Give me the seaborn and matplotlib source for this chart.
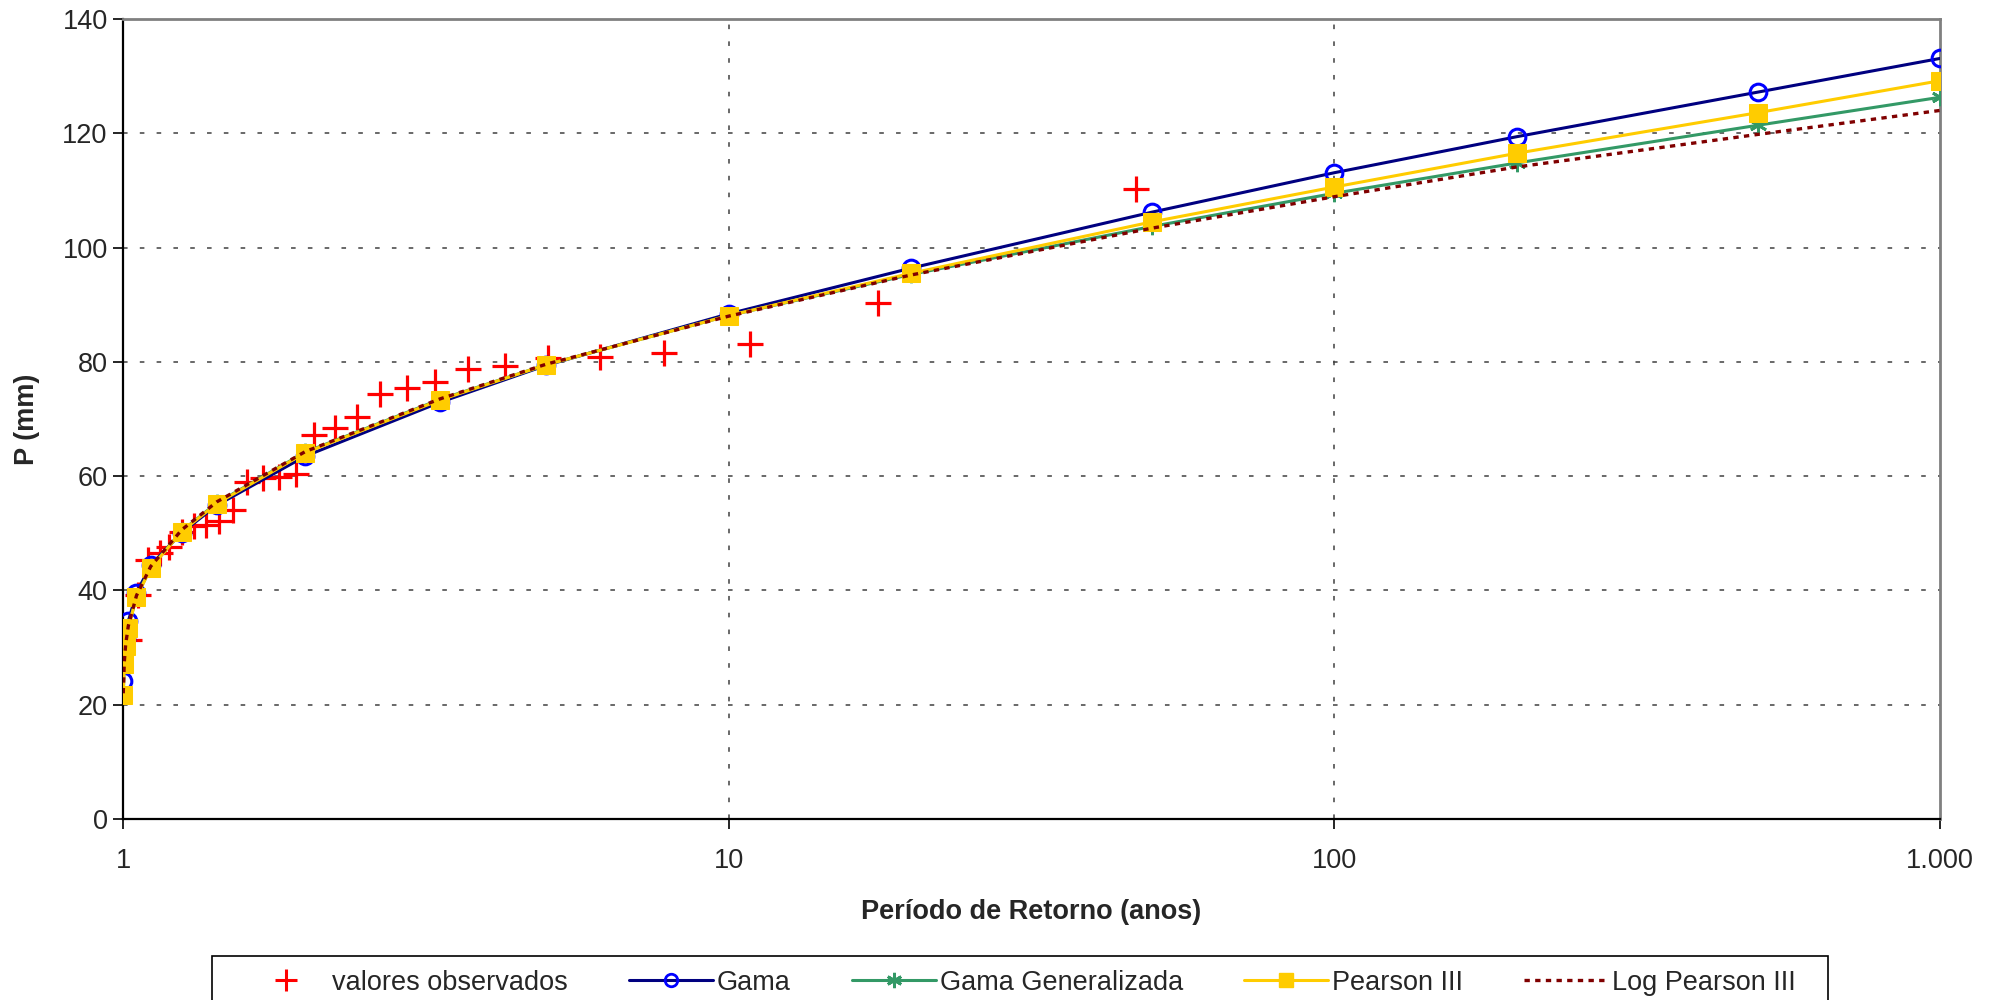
import matplotlib
matplotlib.use("Agg")
import matplotlib.pyplot as plt
import seaborn as sns
import pandas as pd
from matplotlib.ticker import FixedLocator, FixedFormatter, NullLocator
from matplotlib.lines import Line2D
from matplotlib.patches import Rectangle

# ---------------- data ----------------
obs_T = [47.0, 17.63, 10.85, 7.83, 6.13, 5.04, 4.27, 3.71, 3.28, 2.94, 2.66, 2.43, 2.24, 2.07,
         1.93, 1.81, 1.70, 1.60, 1.52, 1.44, 1.37, 1.31, 1.25, 1.19, 1.15, 1.10, 1.06, 1.022]
obs_P = [110.2, 90.3, 83.2, 81.5, 80.8, 80.6, 79.2, 78.8, 76.4, 75.4, 74.3, 70.3, 68.5, 67.2,
         60.4, 59.9, 59.6, 59.0, 54.1, 52.2, 51.4, 51.3, 50.2, 47.6, 46.5, 45.3, 39.2, 31.3]

fit_T = [1.001, 1.005, 1.0101, 1.0204, 1.0526, 1.1111, 1.25, 1.4286, 2, 3.3333, 5, 10,
         20, 50, 100, 200, 500, 1000]
gama = [24.1, 29.1, 31.5, 34.6, 39.6, 44.4, 50.1, 54.9, 63.5, 72.9, 79.4, 88.4,
        96.4, 106.2, 113.1, 119.4, 127.2, 133.1]
gama_gen = [21.9, 27.3, 30.3, 33.6, 38.9, 44.0, 50.4, 55.3, 64.2, 73.4, 79.5, 88.1,
            95.3, 103.7, 109.5, 114.8, 121.4, 126.3]
pearson3 = [21.7, 27.2, 30.2, 33.5, 38.8, 43.9, 50.3, 55.2, 64.1, 73.3, 79.5, 88.1,
            95.5, 104.5, 110.6, 116.5, 123.6, 129.2]
log_pearson3 = [22.0, 27.5, 30.5, 33.8, 39.1, 44.2, 50.6, 55.5, 64.3, 73.5, 79.6, 88.0,
                95.2, 103.4, 108.9, 114.1, 119.8, 124.0]

x_ticks = [1, 10, 100, 1000]
x_tick_labels = ["1", "10", "100", "1.000"]
y_ticks = [0, 20, 40, 60, 80, 100, 120, 140]

labels = ["valores observados", "Gama", "Gama Generalizada", "Pearson III", "Log Pearson III"]

# ---------------- style ----------------
sns.set_style("white")
plt.rcParams["font.family"] = ["Liberation Sans", "DejaVu Sans"]
FS = 19.5

fig = plt.figure(figsize=(19.93, 10), dpi=100)
ax = fig.add_axes([123 / 1993, 1 - 819 / 1000, (1940 - 123) / 1993, 800 / 1000])

df_obs = pd.DataFrame({"T": obs_T, "P": obs_P})
df_fit = pd.DataFrame({"T": fit_T, "Gama": gama, "GG": gama_gen, "P3": pearson3, "LP3": log_pearson3})

# observed
sns.scatterplot(data=df_obs, x="T", y="P", marker="+", s=340, color="#FF0000",
                linewidth=2.3, ax=ax, zorder=3, legend=False)
# Gama
sns.lineplot(data=df_fit, x="T", y="Gama", ax=ax, color="#000080", linewidth=2.2,
             marker="o", markersize=12, markerfacecolor="none", markeredgecolor="#0000FF",
             markeredgewidth=2.2, sort=False, estimator=None, zorder=4, legend=False)
# Gama generalizada
sns.lineplot(data=df_fit, x="T", y="GG", ax=ax, color="#339966", linewidth=2.2,
             marker=(6, 2, 0), markersize=12.5, markeredgecolor="#339966",
             markeredgewidth=2.0, sort=False, estimator=None, zorder=5, legend=False)
# Pearson III
sns.lineplot(data=df_fit, x="T", y="P3", ax=ax, color="#FFCC00", linewidth=2.2,
             marker="s", markersize=12.5, markerfacecolor="#FFCC00", markeredgecolor="#FFCC00",
             sort=False, estimator=None, zorder=6, legend=False)
# Log Pearson III
sns.lineplot(data=df_fit, x="T", y="LP3", ax=ax, color="#800000", linewidth=2.4,
             sort=False, estimator=None, zorder=7, legend=False)
ax.lines[-1].set_linestyle((0, (1.6, 1.6)))

ax.set_xscale("log")
ax.set_xlim(1, 1000)
ax.set_ylim(0, 140)
ax.xaxis.set_major_locator(FixedLocator(x_ticks))
ax.xaxis.set_major_formatter(FixedFormatter(x_tick_labels))
ax.xaxis.set_minor_locator(NullLocator())
ax.set_yticks(y_ticks)
ax.tick_params(axis="both", which="major", labelsize=FS, direction="out", length=7,
               width=1.2, color="black", left=True, bottom=True)
ax.tick_params(axis="x", pad=14)
ax.tick_params(axis="y", pad=4)

# grid
for yv in y_ticks[1:-1]:
    ax.axhline(yv, color="#404040", linewidth=1.1, linestyle=(0, (3, 8)), zorder=1)
for xv in x_ticks[1:-1]:
    ax.axvline(xv, color="#404040", linewidth=1.1, linestyle=(0, (3, 8)), zorder=1)

for side in ["left", "bottom"]:
    ax.spines[side].set_color("black")
    ax.spines[side].set_linewidth(1.6)
for side in ["top", "right"]:
    ax.spines[side].set_color("#808080")
    ax.spines[side].set_linewidth(2.0)

ax.set_xlabel("Período de Retorno (anos)", fontsize=FS, fontweight="bold", labelpad=18)
ax.set_ylabel("P (mm)", fontsize=FS, fontweight="bold", labelpad=16)

# legend
handles = [
    Line2D([], [], linestyle="none", marker="+", markersize=16, markeredgewidth=2.2, color="#FF0000"),
    Line2D([], [], color="#000080", linewidth=2.2, marker="o", markersize=9,
           markerfacecolor="none", markeredgecolor="#0000FF", markeredgewidth=2),
    Line2D([], [], color="#339966", linewidth=2.2, marker=(6, 2, 0), markersize=11,
           markeredgecolor="#339966", markeredgewidth=2),
    Line2D([], [], color="#FFCC00", linewidth=2.2, marker="s", markersize=10,
           markerfacecolor="#FFCC00", markeredgecolor="#FFCC00"),
    Line2D([], [], color="#800000", linewidth=2.4, linestyle=(0, (1.6, 1.6))),
]
leg = fig.legend(handles, labels, loc="upper center", bbox_to_anchor=(1020 / 1993, 1 - 956 / 1000),
                 ncol=5, frameon=False, fontsize=FS,
                 handlelength=3.1, handletextpad=0.15, columnspacing=2.25, borderpad=0.5,
                 borderaxespad=0)
fig.patches.append(Rectangle((212 / 1993, -0.02), (1828 - 212) / 1993, 0.02 + 44 / 1000,
                             transform=fig.transFigure, fill=False, edgecolor="black",
                             linewidth=1.2, figure=fig))

fig.savefig("out.png", dpi=100)
